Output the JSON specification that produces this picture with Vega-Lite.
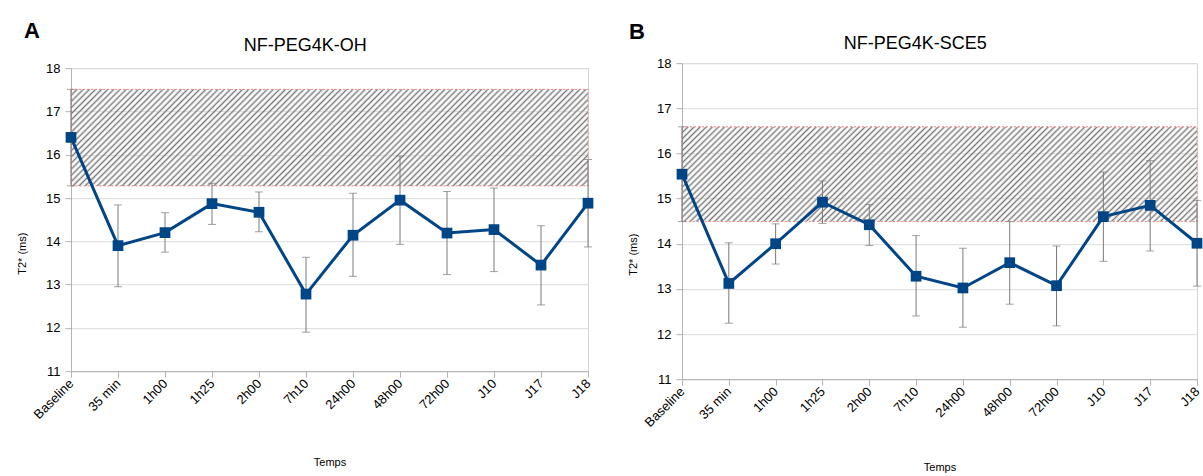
{
  "$schema": "https://vega.github.io/schema/vega-lite/v6.json",
  "padding": {"left": 16, "top": 19, "right": 2, "bottom": 2},
  "background": "white",
  "config": {
    "font": "Liberation Sans",
    "view": {"stroke": "#d4d4d4"},
    "axis": {"domainColor": "#b3b3b3", "tickColor": "#b3b3b3", "gridColor": "#dcdcdc", "labelColor": "#000000", "titleColor": "#000000", "titleFontWeight": "normal", "titleFontSize": 11, "labelFontSize": 13},
    "title": {"fontWeight": "normal", "color": "#000000"}
  },
  "datasets": {
    "a": [
      {"t": "Baseline", "v": 16.40, "lo": 15.28, "hi": 17.51},
      {"t": "35 min", "v": 13.90, "lo": 12.95, "hi": 14.84},
      {"t": "1h00", "v": 14.20, "lo": 13.75, "hi": 14.66},
      {"t": "1h25", "v": 14.87, "lo": 14.39, "hi": 15.34},
      {"t": "2h00", "v": 14.67, "lo": 14.22, "hi": 15.14},
      {"t": "7h10", "v": 12.78, "lo": 11.90, "hi": 13.63},
      {"t": "24h00", "v": 14.14, "lo": 13.19, "hi": 15.11},
      {"t": "48h00", "v": 14.95, "lo": 13.93, "hi": 15.97},
      {"t": "72h00", "v": 14.19, "lo": 13.23, "hi": 15.15},
      {"t": "J10", "v": 14.27, "lo": 13.30, "hi": 15.23},
      {"t": "J17", "v": 13.45, "lo": 12.53, "hi": 14.36},
      {"t": "J18", "v": 14.88, "lo": 13.87, "hi": 15.89}
    ],
    "b": [
      {"t": "Baseline", "v": 15.54, "lo": 14.49, "hi": 16.59},
      {"t": "35 min", "v": 13.12, "lo": 12.24, "hi": 14.02},
      {"t": "1h00", "v": 14.00, "lo": 13.55, "hi": 14.44},
      {"t": "1h25", "v": 14.92, "lo": 14.45, "hi": 15.39},
      {"t": "2h00", "v": 14.42, "lo": 13.96, "hi": 14.87},
      {"t": "7h10", "v": 13.28, "lo": 12.40, "hi": 14.18},
      {"t": "24h00", "v": 13.02, "lo": 12.15, "hi": 13.90},
      {"t": "48h00", "v": 13.58, "lo": 12.66, "hi": 14.49},
      {"t": "72h00", "v": 13.07, "lo": 12.18, "hi": 13.95},
      {"t": "J10", "v": 14.60, "lo": 13.61, "hi": 15.59},
      {"t": "J17", "v": 14.85, "lo": 13.84, "hi": 15.84},
      {"t": "J18", "v": 14.01, "lo": 13.06, "hi": 14.96}
    ]
  },
  "spacing": 32,
  "center": true,
  "hconcat": [
    {
      "title": {"text": "A", "anchor": "start", "frame": "bounds", "fontSize": 22, "fontWeight": "bold", "dx": 8, "offset": -6},
      "vconcat": [
        {
          "data": {"name": "a"},
          "title": {"text": "NF-PEG4K-OH", "frame": "bounds", "anchor": "middle", "fontSize": 18, "offset": 7},
          "width": 517,
          "height": 303,
          "layer": [
            {
              "transform": [{"filter": "datum.t === 'Baseline'"}],
              "mark": {"type": "rect", "opacity": 1, "stroke": "#f08080", "strokeDash": [2, 2], "strokeWidth": 1,
                "fill": {"gradient": "linear", "x1": 0, "y1": 0, "x2": 1.146, "y2": 0.213, "stops": [
{"offset":0,"color":"#777"},{"offset":0.005,"color":"#fff0"},{"offset":0.01,"color":"#777"},{"offset":0.015,"color":"#fff0"},{"offset":0.02,"color":"#777"},{"offset":0.025,"color":"#fff0"},{"offset":0.03,"color":"#777"},{"offset":0.035,"color":"#fff0"},{"offset":0.04,"color":"#777"},{"offset":0.045,"color":"#fff0"},
{"offset":0.05,"color":"#777"},{"offset":0.055,"color":"#fff0"},{"offset":0.06,"color":"#777"},{"offset":0.065,"color":"#fff0"},{"offset":0.07,"color":"#777"},{"offset":0.075,"color":"#fff0"},{"offset":0.08,"color":"#777"},{"offset":0.085,"color":"#fff0"},{"offset":0.09,"color":"#777"},{"offset":0.095,"color":"#fff0"},
{"offset":0.1,"color":"#777"},{"offset":0.105,"color":"#fff0"},{"offset":0.11,"color":"#777"},{"offset":0.115,"color":"#fff0"},{"offset":0.12,"color":"#777"},{"offset":0.125,"color":"#fff0"},{"offset":0.13,"color":"#777"},{"offset":0.135,"color":"#fff0"},{"offset":0.14,"color":"#777"},{"offset":0.145,"color":"#fff0"},
{"offset":0.15,"color":"#777"},{"offset":0.155,"color":"#fff0"},{"offset":0.16,"color":"#777"},{"offset":0.165,"color":"#fff0"},{"offset":0.17,"color":"#777"},{"offset":0.175,"color":"#fff0"},{"offset":0.18,"color":"#777"},{"offset":0.185,"color":"#fff0"},{"offset":0.19,"color":"#777"},{"offset":0.195,"color":"#fff0"},
{"offset":0.2,"color":"#777"},{"offset":0.205,"color":"#fff0"},{"offset":0.21,"color":"#777"},{"offset":0.215,"color":"#fff0"},{"offset":0.22,"color":"#777"},{"offset":0.225,"color":"#fff0"},{"offset":0.23,"color":"#777"},{"offset":0.235,"color":"#fff0"},{"offset":0.24,"color":"#777"},{"offset":0.245,"color":"#fff0"},
{"offset":0.25,"color":"#777"},{"offset":0.255,"color":"#fff0"},{"offset":0.26,"color":"#777"},{"offset":0.265,"color":"#fff0"},{"offset":0.27,"color":"#777"},{"offset":0.275,"color":"#fff0"},{"offset":0.28,"color":"#777"},{"offset":0.285,"color":"#fff0"},{"offset":0.29,"color":"#777"},{"offset":0.295,"color":"#fff0"},
{"offset":0.3,"color":"#777"},{"offset":0.305,"color":"#fff0"},{"offset":0.31,"color":"#777"},{"offset":0.315,"color":"#fff0"},{"offset":0.32,"color":"#777"},{"offset":0.325,"color":"#fff0"},{"offset":0.33,"color":"#777"},{"offset":0.335,"color":"#fff0"},{"offset":0.34,"color":"#777"},{"offset":0.345,"color":"#fff0"},
{"offset":0.35,"color":"#777"},{"offset":0.355,"color":"#fff0"},{"offset":0.36,"color":"#777"},{"offset":0.365,"color":"#fff0"},{"offset":0.37,"color":"#777"},{"offset":0.375,"color":"#fff0"},{"offset":0.38,"color":"#777"},{"offset":0.385,"color":"#fff0"},{"offset":0.39,"color":"#777"},{"offset":0.395,"color":"#fff0"},
{"offset":0.4,"color":"#777"},{"offset":0.405,"color":"#fff0"},{"offset":0.41,"color":"#777"},{"offset":0.415,"color":"#fff0"},{"offset":0.42,"color":"#777"},{"offset":0.425,"color":"#fff0"},{"offset":0.43,"color":"#777"},{"offset":0.435,"color":"#fff0"},{"offset":0.44,"color":"#777"},{"offset":0.445,"color":"#fff0"},
{"offset":0.45,"color":"#777"},{"offset":0.455,"color":"#fff0"},{"offset":0.46,"color":"#777"},{"offset":0.465,"color":"#fff0"},{"offset":0.47,"color":"#777"},{"offset":0.475,"color":"#fff0"},{"offset":0.48,"color":"#777"},{"offset":0.485,"color":"#fff0"},{"offset":0.49,"color":"#777"},{"offset":0.495,"color":"#fff0"},
{"offset":0.5,"color":"#777"},{"offset":0.505,"color":"#fff0"},{"offset":0.51,"color":"#777"},{"offset":0.515,"color":"#fff0"},{"offset":0.52,"color":"#777"},{"offset":0.525,"color":"#fff0"},{"offset":0.53,"color":"#777"},{"offset":0.535,"color":"#fff0"},{"offset":0.54,"color":"#777"},{"offset":0.545,"color":"#fff0"},
{"offset":0.55,"color":"#777"},{"offset":0.555,"color":"#fff0"},{"offset":0.56,"color":"#777"},{"offset":0.565,"color":"#fff0"},{"offset":0.57,"color":"#777"},{"offset":0.575,"color":"#fff0"},{"offset":0.58,"color":"#777"},{"offset":0.585,"color":"#fff0"},{"offset":0.59,"color":"#777"},{"offset":0.595,"color":"#fff0"},
{"offset":0.6,"color":"#777"},{"offset":0.605,"color":"#fff0"},{"offset":0.61,"color":"#777"},{"offset":0.615,"color":"#fff0"},{"offset":0.62,"color":"#777"},{"offset":0.625,"color":"#fff0"},{"offset":0.63,"color":"#777"},{"offset":0.635,"color":"#fff0"},{"offset":0.64,"color":"#777"},{"offset":0.645,"color":"#fff0"},
{"offset":0.65,"color":"#777"},{"offset":0.655,"color":"#fff0"},{"offset":0.66,"color":"#777"},{"offset":0.665,"color":"#fff0"},{"offset":0.67,"color":"#777"},{"offset":0.675,"color":"#fff0"},{"offset":0.68,"color":"#777"},{"offset":0.685,"color":"#fff0"},{"offset":0.69,"color":"#777"},{"offset":0.695,"color":"#fff0"},
{"offset":0.7,"color":"#777"},{"offset":0.705,"color":"#fff0"},{"offset":0.71,"color":"#777"},{"offset":0.715,"color":"#fff0"},{"offset":0.72,"color":"#777"},{"offset":0.725,"color":"#fff0"},{"offset":0.73,"color":"#777"},{"offset":0.735,"color":"#fff0"},{"offset":0.74,"color":"#777"},{"offset":0.745,"color":"#fff0"},
{"offset":0.75,"color":"#777"},{"offset":0.755,"color":"#fff0"},{"offset":0.76,"color":"#777"},{"offset":0.765,"color":"#fff0"},{"offset":0.77,"color":"#777"},{"offset":0.775,"color":"#fff0"},{"offset":0.78,"color":"#777"},{"offset":0.785,"color":"#fff0"},{"offset":0.79,"color":"#777"},{"offset":0.795,"color":"#fff0"},
{"offset":0.8,"color":"#777"},{"offset":0.805,"color":"#fff0"},{"offset":0.81,"color":"#777"},{"offset":0.815,"color":"#fff0"},{"offset":0.82,"color":"#777"},{"offset":0.825,"color":"#fff0"},{"offset":0.83,"color":"#777"},{"offset":0.835,"color":"#fff0"},{"offset":0.84,"color":"#777"},{"offset":0.845,"color":"#fff0"},
{"offset":0.85,"color":"#777"},{"offset":0.855,"color":"#fff0"},{"offset":0.86,"color":"#777"},{"offset":0.865,"color":"#fff0"},{"offset":0.87,"color":"#777"},{"offset":0.875,"color":"#fff0"},{"offset":0.88,"color":"#777"},{"offset":0.885,"color":"#fff0"},{"offset":0.89,"color":"#777"},{"offset":0.895,"color":"#fff0"},
{"offset":0.9,"color":"#777"},{"offset":0.905,"color":"#fff0"},{"offset":0.91,"color":"#777"},{"offset":0.915,"color":"#fff0"},{"offset":0.92,"color":"#777"},{"offset":0.925,"color":"#fff0"},{"offset":0.93,"color":"#777"},{"offset":0.935,"color":"#fff0"},{"offset":0.94,"color":"#777"},{"offset":0.945,"color":"#fff0"},
{"offset":0.95,"color":"#777"},{"offset":0.955,"color":"#fff0"},{"offset":0.96,"color":"#777"},{"offset":0.965,"color":"#fff0"},{"offset":0.97,"color":"#777"},{"offset":0.975,"color":"#fff0"},{"offset":0.98,"color":"#777"},{"offset":0.985,"color":"#fff0"},{"offset":0.99,"color":"#777"},{"offset":0.995,"color":"#fff0"},
{"offset":1,"color":"#777"}
                ]}},
              "encoding": {
                "y": {"field": "lo", "type": "quantitative", "scale": {"domain": [11, 18], "nice": false, "zero": false}},
                "y2": {"field": "hi"}
              }
            },
            {
              "mark": {"type": "rule", "color": "#7a7a7a", "strokeWidth": 1},
              "encoding": {
                "x": {"field": "t", "type": "nominal", "sort": ["Baseline","35 min","1h00","1h25","2h00","7h10","24h00","48h00","72h00","J10","J17","J18"], "scale": {"type": "point", "padding": 0}},
                "y": {"field": "lo", "type": "quantitative", "scale": {"domain": [11, 18], "nice": false, "zero": false}},
                "y2": {"field": "hi"}
              }
            },
            {
              "mark": {"type": "tick", "color": "#7a7a7a", "size": 8, "thickness": 1, "orient": "horizontal"},
              "encoding": {
                "x": {"field": "t", "type": "nominal", "sort": ["Baseline","35 min","1h00","1h25","2h00","7h10","24h00","48h00","72h00","J10","J17","J18"], "scale": {"type": "point", "padding": 0}},
                "y": {"field": "lo", "type": "quantitative", "scale": {"domain": [11, 18], "nice": false, "zero": false}}
              }
            },
            {
              "mark": {"type": "tick", "color": "#7a7a7a", "size": 8, "thickness": 1, "orient": "horizontal"},
              "encoding": {
                "x": {"field": "t", "type": "nominal", "sort": ["Baseline","35 min","1h00","1h25","2h00","7h10","24h00","48h00","72h00","J10","J17","J18"], "scale": {"type": "point", "padding": 0}},
                "y": {"field": "hi", "type": "quantitative", "scale": {"domain": [11, 18], "nice": false, "zero": false}}
              }
            },
            {
              "mark": {"type": "line", "color": "#004586", "strokeWidth": 3},
              "encoding": {
                "x": {"field": "t", "type": "nominal", "sort": ["Baseline","35 min","1h00","1h25","2h00","7h10","24h00","48h00","72h00","J10","J17","J18"], "scale": {"type": "point", "padding": 0},
                      "axis": {"title": "Temps", "labelAngle": -45, "labelFontSize": 13, "tickSize": 6, "labelPadding": 4, "titlePadding": 35, "grid": false}},
                "y": {"field": "v", "type": "quantitative", "scale": {"domain": [11, 18], "nice": false, "zero": false},
                      "axis": {"title": "T2* (ms)", "values": [11, 12, 13, 14, 15, 16, 17, 18], "labelFontSize": 13, "tickSize": 6, "labelPadding": 5, "titlePadding": 18, "grid": true, "titleY": 185}}
              }
            },
            {
              "mark": {"type": "square", "color": "#004586", "size": 115, "opacity": 1, "filled": true},
              "encoding": {
                "x": {"field": "t", "type": "nominal", "sort": ["Baseline","35 min","1h00","1h25","2h00","7h10","24h00","48h00","72h00","J10","J17","J18"], "scale": {"type": "point", "padding": 0}},
                "y": {"field": "v", "type": "quantitative", "scale": {"domain": [11, 18], "nice": false, "zero": false}}
              }
            }
          ]
        }
      ]
    },
    {
      "title": {"text": "B", "anchor": "start", "frame": "bounds", "fontSize": 22, "fontWeight": "bold", "dx": 2, "offset": -9},
      "vconcat": [
        {
          "data": {"name": "b"},
          "title": {"text": "NF-PEG4K-SCE5", "frame": "bounds", "anchor": "middle", "fontSize": 18, "offset": 4},
          "width": 515,
          "height": 316,
          "layer": [
            {
              "transform": [{"filter": "datum.t === 'Baseline'"}],
              "mark": {"type": "rect", "opacity": 1, "stroke": "#f08080", "strokeDash": [2, 2], "strokeWidth": 1,
                "fill": {"gradient": "linear", "x1": 0, "y1": 0, "x2": 1.146, "y2": 0.213, "stops": [
{"offset":0,"color":"#777"},{"offset":0.005,"color":"#fff0"},{"offset":0.01,"color":"#777"},{"offset":0.015,"color":"#fff0"},{"offset":0.02,"color":"#777"},{"offset":0.025,"color":"#fff0"},{"offset":0.03,"color":"#777"},{"offset":0.035,"color":"#fff0"},{"offset":0.04,"color":"#777"},{"offset":0.045,"color":"#fff0"},
{"offset":0.05,"color":"#777"},{"offset":0.055,"color":"#fff0"},{"offset":0.06,"color":"#777"},{"offset":0.065,"color":"#fff0"},{"offset":0.07,"color":"#777"},{"offset":0.075,"color":"#fff0"},{"offset":0.08,"color":"#777"},{"offset":0.085,"color":"#fff0"},{"offset":0.09,"color":"#777"},{"offset":0.095,"color":"#fff0"},
{"offset":0.1,"color":"#777"},{"offset":0.105,"color":"#fff0"},{"offset":0.11,"color":"#777"},{"offset":0.115,"color":"#fff0"},{"offset":0.12,"color":"#777"},{"offset":0.125,"color":"#fff0"},{"offset":0.13,"color":"#777"},{"offset":0.135,"color":"#fff0"},{"offset":0.14,"color":"#777"},{"offset":0.145,"color":"#fff0"},
{"offset":0.15,"color":"#777"},{"offset":0.155,"color":"#fff0"},{"offset":0.16,"color":"#777"},{"offset":0.165,"color":"#fff0"},{"offset":0.17,"color":"#777"},{"offset":0.175,"color":"#fff0"},{"offset":0.18,"color":"#777"},{"offset":0.185,"color":"#fff0"},{"offset":0.19,"color":"#777"},{"offset":0.195,"color":"#fff0"},
{"offset":0.2,"color":"#777"},{"offset":0.205,"color":"#fff0"},{"offset":0.21,"color":"#777"},{"offset":0.215,"color":"#fff0"},{"offset":0.22,"color":"#777"},{"offset":0.225,"color":"#fff0"},{"offset":0.23,"color":"#777"},{"offset":0.235,"color":"#fff0"},{"offset":0.24,"color":"#777"},{"offset":0.245,"color":"#fff0"},
{"offset":0.25,"color":"#777"},{"offset":0.255,"color":"#fff0"},{"offset":0.26,"color":"#777"},{"offset":0.265,"color":"#fff0"},{"offset":0.27,"color":"#777"},{"offset":0.275,"color":"#fff0"},{"offset":0.28,"color":"#777"},{"offset":0.285,"color":"#fff0"},{"offset":0.29,"color":"#777"},{"offset":0.295,"color":"#fff0"},
{"offset":0.3,"color":"#777"},{"offset":0.305,"color":"#fff0"},{"offset":0.31,"color":"#777"},{"offset":0.315,"color":"#fff0"},{"offset":0.32,"color":"#777"},{"offset":0.325,"color":"#fff0"},{"offset":0.33,"color":"#777"},{"offset":0.335,"color":"#fff0"},{"offset":0.34,"color":"#777"},{"offset":0.345,"color":"#fff0"},
{"offset":0.35,"color":"#777"},{"offset":0.355,"color":"#fff0"},{"offset":0.36,"color":"#777"},{"offset":0.365,"color":"#fff0"},{"offset":0.37,"color":"#777"},{"offset":0.375,"color":"#fff0"},{"offset":0.38,"color":"#777"},{"offset":0.385,"color":"#fff0"},{"offset":0.39,"color":"#777"},{"offset":0.395,"color":"#fff0"},
{"offset":0.4,"color":"#777"},{"offset":0.405,"color":"#fff0"},{"offset":0.41,"color":"#777"},{"offset":0.415,"color":"#fff0"},{"offset":0.42,"color":"#777"},{"offset":0.425,"color":"#fff0"},{"offset":0.43,"color":"#777"},{"offset":0.435,"color":"#fff0"},{"offset":0.44,"color":"#777"},{"offset":0.445,"color":"#fff0"},
{"offset":0.45,"color":"#777"},{"offset":0.455,"color":"#fff0"},{"offset":0.46,"color":"#777"},{"offset":0.465,"color":"#fff0"},{"offset":0.47,"color":"#777"},{"offset":0.475,"color":"#fff0"},{"offset":0.48,"color":"#777"},{"offset":0.485,"color":"#fff0"},{"offset":0.49,"color":"#777"},{"offset":0.495,"color":"#fff0"},
{"offset":0.5,"color":"#777"},{"offset":0.505,"color":"#fff0"},{"offset":0.51,"color":"#777"},{"offset":0.515,"color":"#fff0"},{"offset":0.52,"color":"#777"},{"offset":0.525,"color":"#fff0"},{"offset":0.53,"color":"#777"},{"offset":0.535,"color":"#fff0"},{"offset":0.54,"color":"#777"},{"offset":0.545,"color":"#fff0"},
{"offset":0.55,"color":"#777"},{"offset":0.555,"color":"#fff0"},{"offset":0.56,"color":"#777"},{"offset":0.565,"color":"#fff0"},{"offset":0.57,"color":"#777"},{"offset":0.575,"color":"#fff0"},{"offset":0.58,"color":"#777"},{"offset":0.585,"color":"#fff0"},{"offset":0.59,"color":"#777"},{"offset":0.595,"color":"#fff0"},
{"offset":0.6,"color":"#777"},{"offset":0.605,"color":"#fff0"},{"offset":0.61,"color":"#777"},{"offset":0.615,"color":"#fff0"},{"offset":0.62,"color":"#777"},{"offset":0.625,"color":"#fff0"},{"offset":0.63,"color":"#777"},{"offset":0.635,"color":"#fff0"},{"offset":0.64,"color":"#777"},{"offset":0.645,"color":"#fff0"},
{"offset":0.65,"color":"#777"},{"offset":0.655,"color":"#fff0"},{"offset":0.66,"color":"#777"},{"offset":0.665,"color":"#fff0"},{"offset":0.67,"color":"#777"},{"offset":0.675,"color":"#fff0"},{"offset":0.68,"color":"#777"},{"offset":0.685,"color":"#fff0"},{"offset":0.69,"color":"#777"},{"offset":0.695,"color":"#fff0"},
{"offset":0.7,"color":"#777"},{"offset":0.705,"color":"#fff0"},{"offset":0.71,"color":"#777"},{"offset":0.715,"color":"#fff0"},{"offset":0.72,"color":"#777"},{"offset":0.725,"color":"#fff0"},{"offset":0.73,"color":"#777"},{"offset":0.735,"color":"#fff0"},{"offset":0.74,"color":"#777"},{"offset":0.745,"color":"#fff0"},
{"offset":0.75,"color":"#777"},{"offset":0.755,"color":"#fff0"},{"offset":0.76,"color":"#777"},{"offset":0.765,"color":"#fff0"},{"offset":0.77,"color":"#777"},{"offset":0.775,"color":"#fff0"},{"offset":0.78,"color":"#777"},{"offset":0.785,"color":"#fff0"},{"offset":0.79,"color":"#777"},{"offset":0.795,"color":"#fff0"},
{"offset":0.8,"color":"#777"},{"offset":0.805,"color":"#fff0"},{"offset":0.81,"color":"#777"},{"offset":0.815,"color":"#fff0"},{"offset":0.82,"color":"#777"},{"offset":0.825,"color":"#fff0"},{"offset":0.83,"color":"#777"},{"offset":0.835,"color":"#fff0"},{"offset":0.84,"color":"#777"},{"offset":0.845,"color":"#fff0"},
{"offset":0.85,"color":"#777"},{"offset":0.855,"color":"#fff0"},{"offset":0.86,"color":"#777"},{"offset":0.865,"color":"#fff0"},{"offset":0.87,"color":"#777"},{"offset":0.875,"color":"#fff0"},{"offset":0.88,"color":"#777"},{"offset":0.885,"color":"#fff0"},{"offset":0.89,"color":"#777"},{"offset":0.895,"color":"#fff0"},
{"offset":0.9,"color":"#777"},{"offset":0.905,"color":"#fff0"},{"offset":0.91,"color":"#777"},{"offset":0.915,"color":"#fff0"},{"offset":0.92,"color":"#777"},{"offset":0.925,"color":"#fff0"},{"offset":0.93,"color":"#777"},{"offset":0.935,"color":"#fff0"},{"offset":0.94,"color":"#777"},{"offset":0.945,"color":"#fff0"},
{"offset":0.95,"color":"#777"},{"offset":0.955,"color":"#fff0"},{"offset":0.96,"color":"#777"},{"offset":0.965,"color":"#fff0"},{"offset":0.97,"color":"#777"},{"offset":0.975,"color":"#fff0"},{"offset":0.98,"color":"#777"},{"offset":0.985,"color":"#fff0"},{"offset":0.99,"color":"#777"},{"offset":0.995,"color":"#fff0"},
{"offset":1,"color":"#777"}
                ]}},
              "encoding": {
                "y": {"field": "lo", "type": "quantitative", "scale": {"domain": [11, 18], "nice": false, "zero": false}},
                "y2": {"field": "hi"}
              }
            },
            {
              "mark": {"type": "rule", "color": "#7a7a7a", "strokeWidth": 1},
              "encoding": {
                "x": {"field": "t", "type": "nominal", "sort": ["Baseline","35 min","1h00","1h25","2h00","7h10","24h00","48h00","72h00","J10","J17","J18"], "scale": {"type": "point", "padding": 0}},
                "y": {"field": "lo", "type": "quantitative", "scale": {"domain": [11, 18], "nice": false, "zero": false}},
                "y2": {"field": "hi"}
              }
            },
            {
              "mark": {"type": "tick", "color": "#7a7a7a", "size": 8, "thickness": 1, "orient": "horizontal"},
              "encoding": {
                "x": {"field": "t", "type": "nominal", "sort": ["Baseline","35 min","1h00","1h25","2h00","7h10","24h00","48h00","72h00","J10","J17","J18"], "scale": {"type": "point", "padding": 0}},
                "y": {"field": "lo", "type": "quantitative", "scale": {"domain": [11, 18], "nice": false, "zero": false}}
              }
            },
            {
              "mark": {"type": "tick", "color": "#7a7a7a", "size": 8, "thickness": 1, "orient": "horizontal"},
              "encoding": {
                "x": {"field": "t", "type": "nominal", "sort": ["Baseline","35 min","1h00","1h25","2h00","7h10","24h00","48h00","72h00","J10","J17","J18"], "scale": {"type": "point", "padding": 0}},
                "y": {"field": "hi", "type": "quantitative", "scale": {"domain": [11, 18], "nice": false, "zero": false}}
              }
            },
            {
              "mark": {"type": "line", "color": "#004586", "strokeWidth": 3},
              "encoding": {
                "x": {"field": "t", "type": "nominal", "sort": ["Baseline","35 min","1h00","1h25","2h00","7h10","24h00","48h00","72h00","J10","J17","J18"], "scale": {"type": "point", "padding": 0},
                      "axis": {"title": "Temps", "labelAngle": -45, "labelFontSize": 13, "tickSize": 6, "labelPadding": 4, "titlePadding": 32, "grid": false}},
                "y": {"field": "v", "type": "quantitative", "scale": {"domain": [11, 18], "nice": false, "zero": false},
                      "axis": {"title": "T2* (ms)", "values": [11, 12, 13, 14, 15, 16, 17, 18], "labelFontSize": 13, "tickSize": 6, "labelPadding": 5, "titlePadding": 18, "grid": true, "titleY": 191}}
              }
            },
            {
              "mark": {"type": "square", "color": "#004586", "size": 115, "opacity": 1, "filled": true},
              "encoding": {
                "x": {"field": "t", "type": "nominal", "sort": ["Baseline","35 min","1h00","1h25","2h00","7h10","24h00","48h00","72h00","J10","J17","J18"], "scale": {"type": "point", "padding": 0}},
                "y": {"field": "v", "type": "quantitative", "scale": {"domain": [11, 18], "nice": false, "zero": false}}
              }
            }
          ]
        }
      ]
    }
  ]
}
